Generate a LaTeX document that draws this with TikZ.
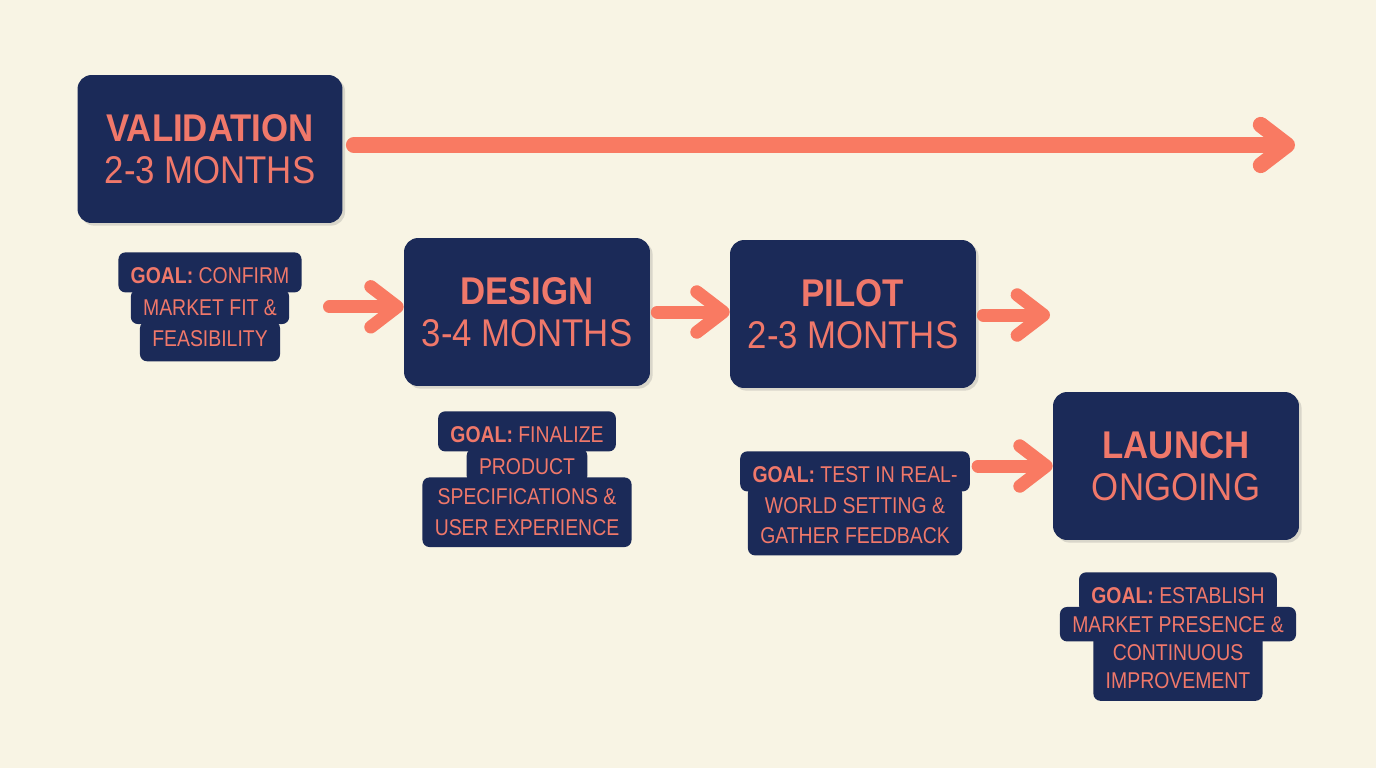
\documentclass[tikz,border=0pt]{standalone}
\usepackage{fontspec}
\newfontfamily\cond{Liberation Sans}[FakeStretch=0.9]
\newfontfamily\condgoal{Liberation Sans}[FakeStretch=0.85]
\usepackage{tikz}
\usetikzlibrary{arrows.meta,positioning,shadows}

\definecolor{cream}{HTML}{F8F4E4}
\definecolor{navy}{HTML}{1B2A58}
\definecolor{coral}{HTML}{F0786A}
\definecolor{arrowc}{HTML}{F97A62}

\tikzset{
  phase/.style={fill=navy, rounded corners=8pt, minimum width=4.92cm, minimum height=2.96cm,
    text=coral, align=center, font=\cond\fontsize{22}{23.8}\selectfont,
    drop shadow={opacity=0.25, shadow xshift=1.5pt, shadow yshift=-1.5pt}},
  goal/.style={fill=navy, rounded corners=4pt, inner xsep=7pt, inner ysep=5pt,
    text=coral, font=\condgoal\fontsize{13}{17.2}\selectfont},
  goalln/.style={goal, text height=9.6pt, text depth=0pt},
  goaltop/.style={goal, text height=12.8pt, text depth=0pt},
  goalbot/.style={goal, text height=9.6pt, text depth=3.2pt},
  goalend/.style={goal, align=center, inner ysep=6.6pt},
  flow/.style={draw=arrowc, line width=7.4pt, line cap=round,
    -{Straight Barb[length=15pt, width=23pt, round]}},
  bigflow/.style={flow, line width=9pt}
}

\begin{document}
\begin{tikzpicture}[x=0.02cm,y=-0.02cm]
\fill[cream] (0,0) rectangle (1376,768);
\useasboundingbox (0,0) rectangle (1376,768);

\node[phase, minimum width=5.3cm] (validation) at (210,149) {\textbf{VALIDATION}\\2-3 MONTHS};
\node[phase] (design) at (527,312) {\textbf{DESIGN}\\3-4 MONTHS};
\node[phase] (pilot) at (853,314) {\textbf{PILOT}\\2-3 MONTHS};
\node[phase] (launch) at (1176,466) {\textbf{LAUNCH}\\ONGOING};

\node[goaltop, anchor=north] (g1a) at (210,252) {\textbf{GOAL:} CONFIRM};
\node[goalln, below=-2pt of g1a] (g1b) {MARKET FIT \&};
\node[goalbot, below=-2pt of g1b] (g1c) {FEASIBILITY};

\node[goaltop, anchor=north] (g2a) at (527,411) {\textbf{GOAL:} FINALIZE};
\node[goalln, below=-2pt of g2a] (g2b) {PRODUCT};
\node[goalend, below=-3.6pt of g2b] (g2c) {SPECIFICATIONS \&\\USER EXPERIENCE};

\node[goaltop, anchor=north] (g3a) at (855,451) {\textbf{GOAL:} TEST IN REAL-};
\node[goalend, below=-3.6pt of g3a] (g3b) {WORLD SETTING \&\\GATHER FEEDBACK};

\node[goaltop, anchor=north] (g4a) at (1178,572) {\textbf{GOAL:} ESTABLISH};
\node[goalln, below=-3.5pt of g4a] (g4b) {MARKET PRESENCE \&};
\node[goalend, below=-5pt of g4b, font=\condgoal\fontsize{13}{16}\selectfont] (g4c) {CONTINUOUS\\IMPROVEMENT};

\coordinate (far) at (1295,145);
\coordinate (next) at (1050,315);

\draw[bigflow, shorten <=0.22cm] (validation.east |- far) -- (far);
\draw[flow, shorten <=0.8cm] (g1b.east) -- (g1b.east -| design.west);
\draw[flow, shorten <=0.14cm] (design.east) -- (design.east -| pilot.west);
\draw[flow, shorten <=0.14cm] (pilot.east |- next) -- (next);
\draw[flow, shorten <=0.16cm] (g3a.east |- launch.west) -- (launch.west);
\end{tikzpicture}
\end{document}
